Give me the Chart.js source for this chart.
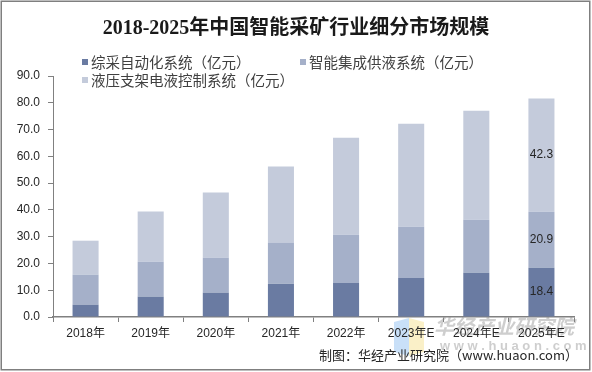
<!DOCTYPE html>
<html><head><meta charset="utf-8">
<script src="https://cdn.jsdelivr.net/npm/chart.js@4/dist/chart.umd.min.js"></script>
<style>html,body{margin:0;padding:0;background:#fff}#wrap{width:592px;height:372px;position:relative}</style>
</head><body><div id="wrap"><canvas id="c" width="592" height="372"></canvas></div>
<script>
const chartTitle = '2018-2025年中国智能采矿行业细分市场规模';
const categories = ['2018年','2019年','2020年','2021年','2022年','2023年E','2024年E','2025年E'];
const seriesNames = ['综采自动化系统（亿元）','智能集成供液系统（亿元）','液压支架电液控制系统（亿元）'];
const automation = [4.6, 7.6, 9.1, 12.4, 12.7, 14.6, 16.5, 18.4];
const supply = [11.2, 13.1, 13.1, 15.4, 18.0, 19.1, 19.8, 20.9];
const hydraulic = [12.7, 18.7, 24.3, 28.4, 36.2, 38.5, 40.7, 42.3];
const yTicks = [0, 10, 20, 30, 40, 50, 60, 70, 80, 90];
const labeledIndex = 7;
const sourceNote = '制图：华经产业研究院（www.huaon.com）';
const watermark = ['华经产业研究院', 'www.huaon.com'];

const colors = ['#6a7ba2', '#a5b0c9', '#c4cbdb'];
const sans = '"Liberation Sans","Noto Sans CJK SC",sans-serif';
const cjk = '"Noto Sans CJK SC","Liberation Sans",sans-serif';

const decor = {
  id: 'decor',
  beforeDraw(chart) {
    const ctx = chart.ctx;
    ctx.save();
    ctx.fillStyle = '#fff';
    ctx.fillRect(0, 0, chart.width, chart.height);
    ctx.globalAlpha = 0.55;
    ctx.fillStyle = '#9cc6f2';
    ctx.beginPath(); ctx.moveTo(394, 322); ctx.lineTo(409, 318); ctx.lineTo(409, 356); ctx.lineTo(394, 352); ctx.closePath(); ctx.fill();
    ctx.fillStyle = '#f6e39b';
    ctx.beginPath(); ctx.moveTo(409, 318); ctx.lineTo(424, 322); ctx.lineTo(424, 352); ctx.lineTo(409, 356); ctx.closePath(); ctx.fill();
    ctx.globalAlpha = 1;
    ctx.fillStyle = 'rgba(190,190,190,0.75)';
    ctx.font = 'bold italic 20px ' + cjk;
    ctx.textAlign = 'left'; ctx.textBaseline = 'middle';
    ctx.fillText(watermark[0], 434, 326);
    ctx.font = 'bold 13px ' + sans;
    ctx.fillText(watermark[1].split('').join(' '), 440, 346);
    ctx.restore();
  },
  afterDraw(chart) {
    const ctx = chart.ctx;
    ctx.save();
    ctx.fillStyle = '#1a1a1a';
    ctx.font = 'bold 20px "Liberation Serif","Noto Sans CJK SC",serif';
    ctx.textAlign = 'center'; ctx.textBaseline = 'middle';
    ctx.fillText(chartTitle, 296, 29);
    const pos = [[82, 62], [300, 62], [82, 80]];
    ctx.font = '14.5px ' + cjk;
    ctx.textAlign = 'left';
    chart.data.datasets.forEach((ds, i) => {
      const [x, y] = pos[i];
      ctx.fillStyle = ds.backgroundColor;
      ctx.fillRect(x, y - 3, 6, 6);
      ctx.fillStyle = '#404040';
      ctx.fillText(ds.label, x + 9, y);
    });
    ctx.font = '12px ' + sans;
    ctx.textAlign = 'center';
    ctx.fillStyle = '#262626';
    chart.data.datasets.forEach((ds, i) => {
      const el = chart.getDatasetMeta(i).data[labeledIndex];
      const y = (el.y + el.base) / 2;
      ctx.fillText(ds.data[labeledIndex].toFixed(1), el.x, y);
    });
    ctx.font = '13px ' + cjk;
    ctx.textAlign = 'right';
    ctx.fillStyle = '#262626';
    ctx.fillText(sourceNote, 578, 355);
    ctx.strokeStyle = '#7f7f7f';
    ctx.lineWidth = 1.5;
    ctx.strokeRect(1.25, 1.25, 588.5, 368.5);
    ctx.restore();
  }
};

new Chart(document.getElementById('c'), {
  type: 'bar',
  data: {
    labels: categories,
    datasets: [automation, supply, hydraulic].map((d, i) => ({
      label: seriesNames[i],
      data: d,
      backgroundColor: colors[i],
      borderWidth: 0,
      barPercentage: 0.4,
      categoryPercentage: 1.0,
      stack: 's'
    }))
  },
  options: {
    responsive: false,
    devicePixelRatio: 1,
    animation: false,
    layout: { padding: { top: 76, right: 18, bottom: 0, left: 0 } },
    plugins: { legend: { display: false }, title: { display: false }, tooltip: { enabled: false } },
    scales: {
      x: {
        stacked: true,
        grid: { display: true, drawOnChartArea: false, drawTicks: true, tickLength: 5, color: '#808080', offset: true },
        border: { display: true, color: '#808080', width: 1.5 },
        ticks: { color: '#262626', font: { family: sans, size: 12 }, padding: 4, maxRotation: 0, autoSkip: false },
        afterFit(s) { s.height = 55; }
      },
      y: {
        stacked: true,
        min: 0, max: 90,
        grid: { display: true, drawOnChartArea: false, drawTicks: true, tickLength: 5, color: '#808080' },
        border: { display: true, color: '#808080', width: 1 },
        ticks: { color: '#262626', font: { family: sans, size: 12 }, padding: 8, callback: v => Number(v).toFixed(1) },
        afterBuildTicks(s) { s.ticks = yTicks.map(v => ({ value: v })); },
        afterFit(s) { s.width = 53; }
      }
    }
  },
  plugins: [decor]
});
</script>
</body></html>
